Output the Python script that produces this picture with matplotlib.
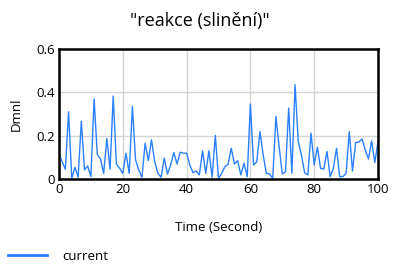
import matplotlib
matplotlib.use('Agg')
import matplotlib.pyplot as plt

# time axis and simulated "current" values
time = list(range(0, 101))
current = [
    0.115, 0.080, 0.045, 0.310, 0.003, 0.054, 0.008, 0.267, 0.042, 0.060,
    0.011, 0.370, 0.112, 0.093, 0.026, 0.187, 0.045, 0.383, 0.068, 0.050,
    0.026, 0.119, 0.026, 0.336, 0.088, 0.042, 0.008, 0.165, 0.085, 0.181,
    0.080, 0.026, 0.008, 0.096, 0.023, 0.065, 0.122, 0.069, 0.124, 0.119,
    0.119, 0.065, 0.029, 0.037, 0.019, 0.130, 0.026, 0.130, 0.008, 0.201,
    0.003, 0.026, 0.057, 0.068, 0.142, 0.069, 0.085, 0.019, 0.073, 0.011,
    0.346, 0.065, 0.080, 0.219, 0.111, 0.026, 0.023, 0.003, 0.289, 0.150,
    0.023, 0.034, 0.327, 0.026, 0.435, 0.173, 0.111, 0.029, 0.019, 0.212,
    0.065, 0.147, 0.049, 0.046, 0.127, 0.011, 0.049, 0.142, 0.011, 0.011,
    0.026, 0.219, 0.037, 0.168, 0.170, 0.185, 0.134, 0.093, 0.176, 0.076,
    0.173,
]
x_ticks = [0, 20, 40, 60, 80, 100]
y_ticks = [0, 0.2, 0.4, 0.6]

plt.rcParams['font.family'] = ['Open Sans', 'DejaVu Sans']

fig = plt.figure(figsize=(4, 2.7), dpi=100)
ax = fig.add_axes([59 / 400, 1 - 179 / 270, 319 / 400, 130 / 270])

line, = ax.plot(time, current, color='#2a80ff', linewidth=1)

ax.set_xlim(0, 100)
ax.set_ylim(0, 0.6)
ax.set_xticks(x_ticks)
ax.set_yticks(y_ticks)
ax.set_xticklabels([str(t) for t in x_ticks])
ax.set_yticklabels(['0', '0.2', '0.4', '0.6'])
ax.tick_params(length=0, labelsize=9.5, pad=3)
ax.grid(True, color='#d4d4d4', linewidth=1)
ax.set_axisbelow(True)
for s in ax.spines.values():
    s.set_linewidth(1.8)
    s.set_color('black')

ax.set_xlabel('Time (Second)', fontsize=9.5, labelpad=18)
ax.set_ylabel('Dmnl', fontsize=9.5, labelpad=10)
fig.text(0.5, 1 - 21 / 270, '"reakce (slinění)"', fontsize=13,
         ha='center', va='center')

fig.legend([line], ['current'], loc='center left',
           bbox_to_anchor=(0, 1 - 256 / 270), frameon=False,
           fontsize=9.5, handlelength=3.0, handletextpad=1.1,
           borderaxespad=0.2)
for h in fig.legends[0].get_lines():
    h.set_linewidth(2)

fig.savefig('out.png', dpi=100)
